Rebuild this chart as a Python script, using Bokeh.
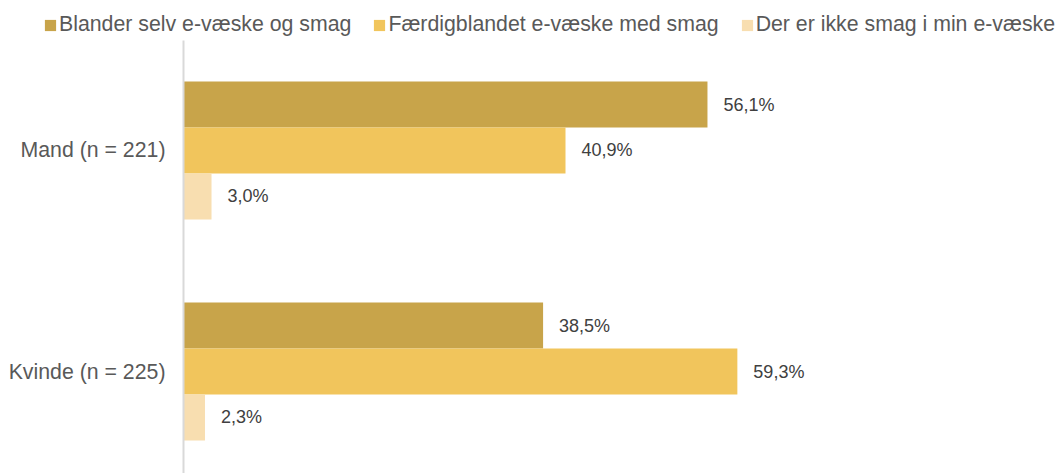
from bokeh.plotting import figure
from bokeh.models import ColumnDataSource, LabelSet, Legend, LegendItem, Range1d
from bokeh.core.properties import value
from bokeh.embed import file_html
from bokeh.resources import INLINE

categories = ["Mand (n = 221)", "Kvinde (n = 225)"]
series_names = ["Blander selv e-væske og smag",
                "Færdigblandet e-væske med smag",
                "Der er ikke smag i min e-væske"]
blander = [56.1, 38.5]
faerdig = [40.9, 59.3]
ingen = [3.0, 2.3]
colors = ["#C8A44A", "#F1C55C", "#F8DEB0"]

series_values = [blander, faerdig, ingen]
cat_pos = [1, 0]          # Mand on top, Kvinde below
offsets = [0.2081, 0.0, -0.2081]
bar_h = 0.2081
FONT = "Liberation Sans"

p = figure(width=1058, height=473, output_backend="svg", toolbar_location=None,
           x_range=Range1d(-19.593, 93.683), y_range=Range1d(-0.4615, 1.6787),
           min_border=0)
p.xaxis.visible = False
p.yaxis.visible = False
p.xgrid.visible = False
p.ygrid.visible = False
p.outline_line_color = None

items = []
for name, vals, off, col in zip(series_names, series_values, offsets, colors):
    src = ColumnDataSource(dict(
        y=[c + off for c in cat_pos],
        x=vals,
        txt=[("%.1f" % v).replace(".", ",") + "%" for v in vals],
    ))
    r = p.hbar(y="y", right="x", left=0, height=bar_h, source=src,
               fill_color=col, line_color=None)
    items.append(LegendItem(label=name, renderers=[r]))
    p.add_layout(LabelSet(x="x", y="y", text="txt", source=src, x_offset=16,
                          text_baseline="middle", text_align="left",
                          text_font=value(FONT), text_font_size="18px",
                          text_color="#404040"))

# category axis: baseline line and category labels
p.segment(x0=[0], y0=[-0.4615], x1=[0], y1=[1.4977],
          line_color="#D9D9D9", line_width=2)
cat_src = ColumnDataSource(dict(x=[0, 0], y=cat_pos, t=categories))
p.text(x="x", y="y", text="t", source=cat_src, x_offset=-18,
       text_align="right", text_baseline="middle",
       text_font=value(FONT), text_font_size="21.3px", text_color="#595959")

legend = Legend(items=items, orientation="horizontal", location=(43, 436),
                glyph_width=14, glyph_height=14, label_standoff=2, spacing=21,
                padding=0, margin=0, border_line_color=None,
                background_fill_alpha=0,
                label_text_font=FONT, label_text_font_size="21.3px",
                label_text_color="#595959", label_height=21)
p.add_layout(legend)

open("out.html", "w").write(file_html(p, INLINE))
